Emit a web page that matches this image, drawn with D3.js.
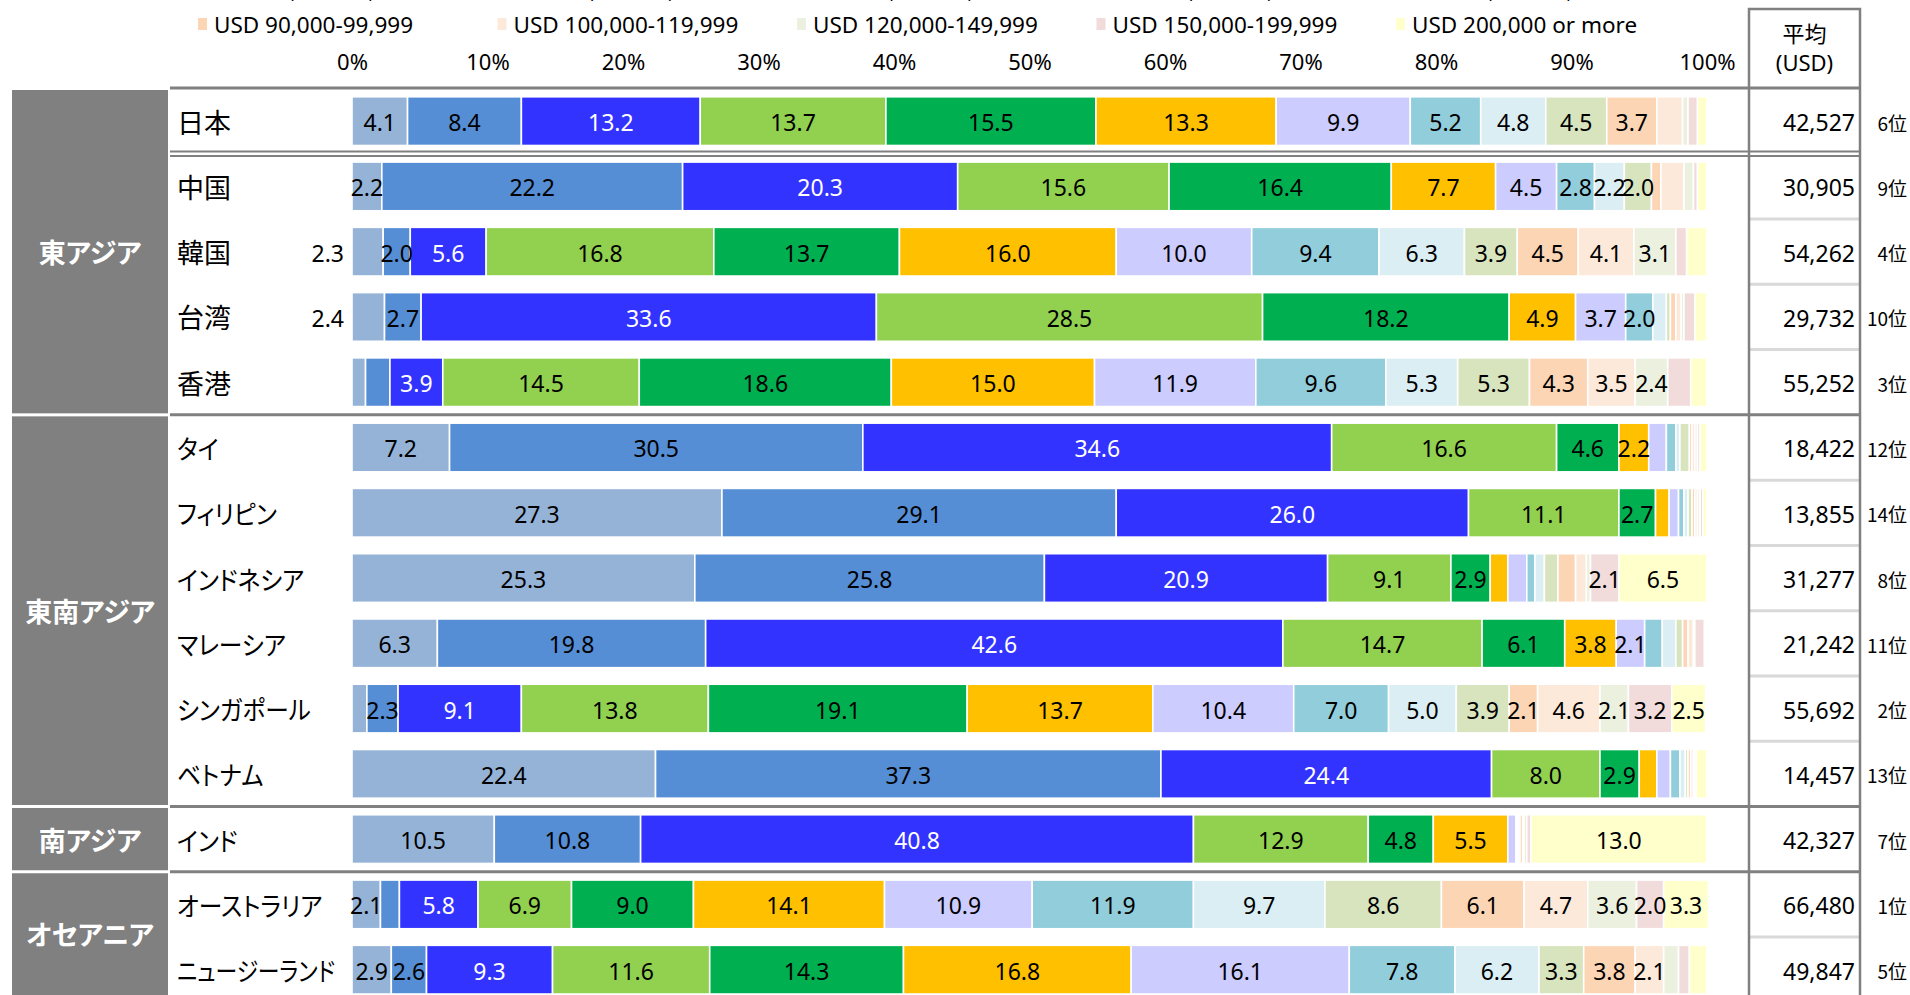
<!DOCTYPE html>
<html>
<head>
<meta charset="utf-8">
<script src="https://cdn.jsdelivr.net/npm/d3@7"></script>
<style>
  html, body { margin: 0; padding: 0; background: #fff; overflow: hidden; }
  svg { display: block; }
  .num { font-family: "Noto Sans", "DejaVu Sans", sans-serif; }
  .jp  { font-family: "Noto Sans CJK JP", "Noto Sans", sans-serif; font-feature-settings: "palt"; }
</style>
</head>
<body>
<svg id="chart" width="1910" height="995"></svg>
<script>
// Household income distribution (%) by country, average income (USD) and ranking
const countries = ["日本", "中国", "韓国", "台湾", "香港", "タイ", "フィリピン", "インドネシア",
                   "マレーシア", "シンガポール", "ベトナム", "インド", "オーストラリア", "ニュージーランド"];
const countryRegion = ["東アジア", "東アジア", "東アジア", "東アジア", "東アジア",
                       "東南アジア", "東南アジア", "東南アジア", "東南アジア", "東南アジア", "東南アジア",
                       "南アジア", "オセアニア", "オセアニア"];
const brackets = ["Less than USD 5,000", "USD 5,000-9,999", "USD 10,000-19,999", "USD 20,000-29,999",
                  "USD 30,000-39,999", "USD 40,000-49,999", "USD 50,000-59,999", "USD 60,000-69,999",
                  "USD 70,000-79,999", "USD 80,000-89,999", "USD 90,000-99,999", "USD 100,000-119,999",
                  "USD 120,000-149,999", "USD 150,000-199,999", "USD 200,000 or more"];
const bracketColors = ["#95B3D7", "#558ED5", "#3333FF", "#92D050", "#00B050", "#FFC000", "#CCCCFF",
                       "#92CDDC", "#DAEEF3", "#D7E4BD", "#FCD5B5", "#FDE9D9", "#EBF1DE", "#F2DCDB", "#FFFFCC"];
// share of households per bracket, one row per country (same order as countries)
const shares = [
  [4.1, 8.4, 13.2, 13.7, 15.5, 13.3, 9.9, 5.2, 4.8, 4.5, 3.7, 1.9, 0.4, 0.7, 0.7],
  [2.2, 22.2, 20.3, 15.6, 16.4, 7.7, 4.5, 2.8, 2.2, 2.0, 0.7, 1.7, 0.7, 0.3, 0.7],
  [2.3, 2.0, 5.6, 16.8, 13.7, 16.0, 10.0, 9.4, 6.3, 3.9, 4.5, 4.1, 3.1, 0.8, 1.5],
  [2.4, 2.7, 33.6, 28.5, 18.2, 4.9, 3.7, 2.0, 1.0, 0.3, 0.4, 0.4, 0.2, 0.8, 0.9],
  [1.0, 1.8, 3.9, 14.5, 18.6, 15.0, 11.9, 9.6, 5.3, 5.3, 4.3, 3.5, 2.4, 1.7, 1.2],
  [7.2, 30.5, 34.6, 16.6, 4.6, 2.2, 1.3, 0.7, 0.3, 0.7, 0.2, 0.2, 0.2, 0.2, 0.5],
  [27.3, 29.1, 26.0, 11.1, 2.7, 1.0, 0.7, 0.4, 0.3, 0.3, 0.2, 0.2, 0.2, 0.2, 0.3],
  [25.3, 25.8, 20.9, 9.1, 2.9, 1.3, 1.4, 0.6, 0.7, 1.0, 1.3, 0.8, 0.3, 2.1, 6.5],
  [6.3, 19.8, 42.6, 14.7, 6.1, 3.8, 2.1, 1.3, 1.0, 0.5, 0.4, 0.4, 0.1, 0.7, 0.0],
  [1.1, 2.3, 9.1, 13.8, 19.1, 13.7, 10.4, 7.0, 5.0, 3.9, 2.1, 4.6, 2.1, 3.2, 2.5],
  [22.4, 37.3, 24.4, 8.0, 2.9, 1.3, 1.0, 0.7, 0.4, 0.2, 0.2, 0.2, 0.1, 0.1, 0.8],
  [10.5, 10.8, 40.8, 12.9, 4.8, 5.5, 0.6, 0.1, 0.1, 0.1, 0.2, 0.1, 0.2, 0.3, 13.0],
  [2.1, 1.4, 5.8, 6.9, 9.0, 14.1, 10.9, 11.9, 9.7, 8.6, 6.1, 4.7, 3.6, 2.0, 3.3],
  [2.9, 2.6, 9.3, 11.6, 14.3, 16.8, 16.1, 7.8, 6.2, 3.3, 3.8, 2.1, 1.1, 0.8, 1.3]
];
const averageIncome = [42527, 30905, 54262, 29732, 55252, 18422, 13855, 31277, 21242, 55692, 14457, 42327, 66480, 49847];
const ranking = [6, 9, 4, 10, 3, 12, 14, 8, 11, 2, 13, 7, 1, 5];
const percentTicks = [0, 10, 20, 30, 40, 50, 60, 70, 80, 90, 100];
// labels of the first segment that sit to the left of the bar
const leftLabelCountries = ["韓国", "台湾"];

const svg = d3.select("#chart");

const x = d3.scaleLinear().domain([0, 100]).range([352, 1707]);
const y = d3.scaleBand().domain(countries).range([88.5, 1002.3]).paddingInner(0.254).paddingOuter(0.127);
const color = d3.scaleOrdinal().domain(brackets).range(bracketColors);
const step = y.step();
const rowTop = c => y(c) - (step - y.bandwidth()) / 2;

const colLeft = 1749, colRight = 1860, lineGray = "#808080";

// ---- stacked bars ----
const table = countries.map((c, i) => {
  const row = { country: c };
  brackets.forEach((b, j) => row[b] = shares[i][j]);
  return row;
});
const stacked = d3.stack().keys(brackets)(table);

const barLayer = svg.append("g");
stacked.forEach(layer => {
  barLayer.append("g").selectAll("rect").data(layer).join("rect")
    .attr("x", d => x(d[0]))
    .attr("y", d => y(d.data.country))
    .attr("width", d => Math.max(0, x(d[1]) - x(d[0])))
    .attr("height", y.bandwidth())
    .attr("fill", color(layer.key))
    .attr("stroke", "#fff")
    .attr("stroke-width", 1.6);
});

// ---- value labels ----
const fmt = d3.format(".1f");
const labelLayer = svg.append("g").attr("class", "num").attr("font-size", 23);
stacked.forEach((layer, j) => {
  layer.forEach(d => {
    const v = d[1] - d[0];
    if (v < 2.0) return;
    const c = d.data.country;
    const outside = j === 0 && leftLabelCountries.includes(c);
    labelLayer.append("text")
      .attr("x", outside ? x(0) - 8 : (x(d[0]) + x(d[1])) / 2)
      .attr("y", y(c) + y.bandwidth() / 2 + 1)
      .attr("text-anchor", outside ? "end" : "middle")
      .attr("dominant-baseline", "central")
      .attr("fill", j === 2 ? "#fff" : "#000")
      .text(fmt(shares[countries.indexOf(c)][j]));
  });
});

// ---- percent axis labels (top) ----
const axisG = svg.append("g").attr("transform", "translate(0,61)");
axisG.call(d3.axisTop(x).tickValues(percentTicks).tickFormat(d => d + "%").tickSize(0).tickPadding(0));
axisG.select(".domain").remove();
axisG.selectAll("text").attr("font-size", 22).attr("fill", "#000")
  .attr("font-family", "Noto Sans, DejaVu Sans, sans-serif")
  .attr("dy", null).attr("dominant-baseline", "central");

// ---- legend (five items per row, earlier rows run above the frame) ----
const legend = svg.append("g").attr("class", "num");
brackets.forEach((b, i) => {
  const row = Math.floor(i / 5), col = i % 5;
  const ly = 24 - (2 - row) * 35;
  const lx = 198 + col * 299.5;
  const g = legend.append("g").attr("transform", `translate(${lx},${ly})`);
  g.append("rect").attr("x", 0).attr("y", -6).attr("width", 9).attr("height", 12).attr("fill", color(b));
  g.append("text").attr("x", 16).attr("y", 0).attr("dominant-baseline", "central")
    .attr("font-size", 22.5).attr("fill", "#000").text(b);
});

// ---- region blocks ----
const regionNames = Array.from(new Set(countryRegion));
const regionSpans = regionNames.map(r => {
  const members = countries.filter((c, i) => countryRegion[i] === r);
  const top = rowTop(members[0]);
  const bottom = rowTop(members[members.length - 1]) + step;
  return { name: r, top, bottom };
});
const regionG = svg.append("g");
regionG.selectAll("rect").data(regionSpans).join("rect")
  .attr("x", 12).attr("width", 156)
  .attr("y", d => d.top + 1.5)
  .attr("height", d => d.bottom - d.top - 3)
  .attr("fill", "#808080");
regionG.selectAll("text").data(regionSpans).join("text")
  .attr("class", "jp")
  .attr("x", 90)
  .attr("y", d => (Math.max(d.top, 0) + Math.min(d.bottom, 995)) / 2)
  .attr("text-anchor", "middle").attr("dominant-baseline", "central")
  .attr("font-size", 27).attr("font-weight", "bold").attr("fill", "#fff")
  .text(d => d.name);

// ---- country names (katakana set a little tighter, kept inside the name column) ----
const kana = /[\u30A0-\u30FF]/;
const nameMaxWidth = 158;
svg.append("g").selectAll("text").data(countries).join("text")
  .attr("class", "jp")
  .attr("x", 177)
  .attr("y", c => y(c) + y.bandwidth() / 2)
  .attr("dominant-baseline", "central")
  .attr("font-size", c => kana.test(c) ? 26 : 27).attr("fill", "#000")
  .text(c => c)
  .each(function (c) {
    if (!kana.test(c)) return;
    const len = this.getComputedTextLength();
    d3.select(this).attr("textLength", Math.min(len * 0.91, nameMaxWidth)).attr("lengthAdjust", "spacingAndGlyphs");
  });

// ---- average income column ----
const lines = svg.append("g").attr("fill", "none");
// light separators between rows inside the average column
countries.forEach((c, i) => {
  if (i < 2 || countryRegion[i] !== countryRegion[i - 1]) return;
  lines.append("line").attr("x1", colLeft).attr("x2", colRight)
    .attr("y1", rowTop(c)).attr("y2", rowTop(c))
    .attr("stroke", "#d9d9d9").attr("stroke-width", 3);
});
// header rule
lines.append("line").attr("x1", 170).attr("x2", colRight).attr("y1", 88).attr("y2", 88)
  .attr("stroke", lineGray).attr("stroke-width", 3);
// double rule under 日本
const jb = rowTop(countries[1]);
[jb - 2.2, jb + 2.2].forEach(yy => lines.append("line").attr("x1", 170).attr("x2", colRight)
  .attr("y1", yy).attr("y2", yy).attr("stroke", lineGray).attr("stroke-width", 2));
// region boundary rules
regionSpans.slice(1).forEach(r => lines.append("line").attr("x1", 170).attr("x2", colRight)
  .attr("y1", r.top).attr("y2", r.top).attr("stroke", lineGray).attr("stroke-width", 3));
// column frame
lines.append("path")
  .attr("d", `M${colLeft},1000V9H${colRight}V1000`)
  .attr("stroke", lineGray).attr("stroke-width", 2.5);

const head = svg.append("g").attr("text-anchor", "middle").attr("fill", "#000");
head.append("text").attr("class", "jp").attr("x", (colLeft + colRight) / 2).attr("y", 32)
  .attr("dominant-baseline", "central").attr("font-size", 22).text("平均");
head.append("text").attr("class", "num").attr("x", (colLeft + colRight) / 2).attr("y", 62)
  .attr("dominant-baseline", "central").attr("font-size", 22).text("(USD)");

const fmtInt = d3.format(",");
svg.append("g").attr("class", "num").selectAll("text").data(countries).join("text")
  .attr("x", 1855)
  .attr("y", c => y(c) + y.bandwidth() / 2 + 1)
  .attr("text-anchor", "end").attr("dominant-baseline", "central")
  .attr("font-size", 23).attr("fill", "#000")
  .text((c, i) => fmtInt(averageIncome[i]));

svg.append("g").attr("class", "jp").selectAll("text").data(countries).join("text")
  .attr("x", 1907)
  .attr("y", c => y(c) + y.bandwidth() / 2 + 1)
  .attr("text-anchor", "end").attr("dominant-baseline", "central")
  .attr("font-size", 19).attr("fill", "#000")
  .text((c, i) => ranking[i] + "位");
</script>
</body>
</html>
